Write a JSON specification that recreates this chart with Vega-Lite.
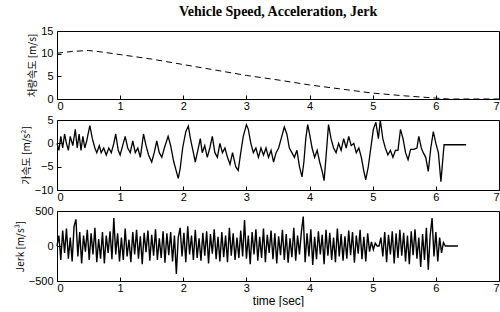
{
  "$schema": "https://vega.github.io/schema/vega-lite/v6.json",
  "padding": {"left": 14, "top": 4, "right": 0, "bottom": 0},
  "background": "white",
  "title": {"text": "Vehicle Speed, Acceleration, Jerk", "font": "Liberation Serif", "fontSize": 14, "fontWeight": "bold", "anchor": "middle", "offset": 6, "color": "black", "dx": 20},
  "config": {
    "view": {"stroke": "black", "strokeWidth": 1},
    "axis": {"labelFont": "Liberation Sans", "labelFontSize": 11, "titleFont": "Noto Sans CJK KR", "titleFontSize": 10, "titleFontWeight": "normal", "domain": false, "grid": false, "tickColor": "black", "labelColor": "black", "titleColor": "black", "tickSize": -4, "titlePadding": 3},
    "axisX": {"labelPadding": 5},
    "axisY": {"labelPadding": 8}
  },
  "spacing": 1,
  "datasets": {
    "speed": [
      {"t": 0, "v": 10.1}, {"t": 0.25, "v": 10.5}, {"t": 0.5, "v": 10.7}, {"t": 0.75, "v": 10.3}, {"t": 1.0, "v": 9.8},
      {"t": 1.5, "v": 8.8}, {"t": 2.0, "v": 7.6}, {"t": 2.5, "v": 6.4}, {"t": 3.0, "v": 5.2}, {"t": 3.5, "v": 4.2},
      {"t": 4.0, "v": 3.1}, {"t": 4.5, "v": 2.2}, {"t": 5.0, "v": 1.3}, {"t": 5.5, "v": 0.7}, {"t": 6.0, "v": 0.2},
      {"t": 6.2, "v": 0}, {"t": 7.0, "v": 0}
    ],
    "acc": [
      {"t":0,"a":0},{"t":0.03,"a":-1.5},{"t":0.06,"a":1.5},{"t":0.09,"a":-1},{"t":0.12,"a":2},{"t":0.15,"a":0},{"t":0.18,"a":-1.5},{"t":0.21,"a":1.5},{"t":0.25,"a":-0.5},{"t":0.29,"a":3},{"t":0.32,"a":-1},{"t":0.35,"a":2},{"t":0.38,"a":-1.5},{"t":0.41,"a":1.5},{"t":0.44,"a":-1},{"t":0.47,"a":0.5},{"t":0.52,"a":3.8},{"t":0.56,"a":1},{"t":0.6,"a":-1},{"t":0.63,"a":-2},{"t":0.67,"a":-0.5},{"t":0.7,"a":-2},{"t":0.74,"a":-1},{"t":0.78,"a":-2.5},{"t":0.82,"a":-1},{"t":0.86,"a":-2},{"t":0.9,"a":0},{"t":0.93,"a":2},{"t":0.97,"a":-1.5},{"t":1.0,"a":-2.5},{"t":1.04,"a":-0.5},{"t":1.08,"a":1.5},{"t":1.12,"a":-1},{"t":1.16,"a":-2},{"t":1.2,"a":0.5},{"t":1.24,"a":-2},{"t":1.28,"a":-1},{"t":1.32,"a":-3},{"t":1.37,"a":2},{"t":1.41,"a":-0.5},{"t":1.45,"a":-2.5},{"t":1.5,"a":-4},{"t":1.54,"a":-2},{"t":1.58,"a":0.5},{"t":1.62,"a":-2},{"t":1.66,"a":-3},{"t":1.7,"a":-1},{"t":1.76,"a":1.5},{"t":1.8,"a":-0.5},{"t":1.85,"a":-4},{"t":1.89,"a":-6},{"t":1.92,"a":-7.5},{"t":1.95,"a":-5.5},{"t":1.99,"a":-1},{"t":2.04,"a":2.5},{"t":2.08,"a":3.7},{"t":2.12,"a":0.5},{"t":2.16,"a":-2},{"t":2.19,"a":-4},{"t":2.23,"a":-1.5},{"t":2.27,"a":1},{"t":2.3,"a":-2},{"t":2.34,"a":-0.5},{"t":2.38,"a":-3},{"t":2.42,"a":-1},{"t":2.46,"a":1.5},{"t":2.5,"a":-2},{"t":2.54,"a":-3},{"t":2.58,"a":0},{"t":2.62,"a":-2},{"t":2.66,"a":-1},{"t":2.7,"a":-3},{"t":2.74,"a":-4.5},{"t":2.78,"a":-2},{"t":2.83,"a":-5},{"t":2.87,"a":-5.8},{"t":2.91,"a":-2},{"t":2.95,"a":1.5},{"t":3.0,"a":4},{"t":3.03,"a":3},{"t":3.07,"a":0},{"t":3.11,"a":-2},{"t":3.15,"a":-1},{"t":3.19,"a":-3},{"t":3.23,"a":-1},{"t":3.27,"a":-2.5},{"t":3.31,"a":-1},{"t":3.35,"a":-3},{"t":3.39,"a":-1.5},{"t":3.43,"a":-4},{"t":3.47,"a":-2},{"t":3.51,"a":-1},{"t":3.56,"a":1.5},{"t":3.6,"a":3.5},{"t":3.64,"a":2},{"t":3.68,"a":-1},{"t":3.72,"a":-2},{"t":3.76,"a":-3},{"t":3.8,"a":-1.5},{"t":3.84,"a":-5},{"t":3.88,"a":-7.2},{"t":3.91,"a":-4},{"t":3.94,"a":1},{"t":3.97,"a":4},{"t":4.0,"a":2},{"t":4.04,"a":-1},{"t":4.08,"a":-3},{"t":4.12,"a":-1.5},{"t":4.16,"a":-4},{"t":4.2,"a":-6},{"t":4.23,"a":-8},{"t":4.26,"a":-3},{"t":4.3,"a":4},{"t":4.34,"a":1},{"t":4.38,"a":-1},{"t":4.42,"a":-2},{"t":4.46,"a":0},{"t":4.5,"a":-1.5},{"t":4.54,"a":1},{"t":4.58,"a":-1},{"t":4.62,"a":1.5},{"t":4.66,"a":-0.5},{"t":4.7,"a":0},{"t":4.74,"a":-2},{"t":4.78,"a":-1},{"t":4.82,"a":-3},{"t":4.86,"a":-6},{"t":4.89,"a":-7.8},{"t":4.93,"a":-5},{"t":4.97,"a":-1},{"t":5.01,"a":3},{"t":5.05,"a":4.5},{"t":5.09,"a":1},{"t":5.12,"a":5},{"t":5.16,"a":1},{"t":5.2,"a":-1},{"t":5.24,"a":-2.5},{"t":5.28,"a":-1.5},{"t":5.32,"a":-3},{"t":5.36,"a":-1.5},{"t":5.4,"a":-1.5},{"t":5.44,"a":3},{"t":5.48,"a":1},{"t":5.52,"a":-2},{"t":5.56,"a":-3.5},{"t":5.6,"a":-1.3},{"t":5.65,"a":-1.3},{"t":5.7,"a":-1},{"t":5.73,"a":1.5},{"t":5.77,"a":-1},{"t":5.8,"a":-2},{"t":5.84,"a":-3},{"t":5.88,"a":-6},{"t":5.92,"a":-1},{"t":5.96,"a":2.5},{"t":6.0,"a":0},{"t":6.04,"a":-2},{"t":6.08,"a":-8.2},{"t":6.13,"a":-0.3},{"t":6.48,"a":-0.3}
    ],
    "jerk": [
      {"t":0,"j":0},{"t":0.03,"j":150},{"t":0.06,"j":-200},{"t":0.09,"j":220},{"t":0.12,"j":-100},{"t":0.15,"j":250},{"t":0.18,"j":-180},{"t":0.21,"j":120},{"t":0.24,"j":-220},{"t":0.27,"j":280},{"t":0.3,"j":380},{"t":0.33,"j":-150},{"t":0.36,"j":200},{"t":0.39,"j":-250},{"t":0.42,"j":150},{"t":0.45,"j":-80},{"t":0.48,"j":230},{"t":0.51,"j":-200},{"t":0.54,"j":180},{"t":0.57,"j":-120},
      {"t":0.6,"j":260},{"t":0.63,"j":-230},{"t":0.66,"j":100},{"t":0.69,"j":-180},{"t":0.72,"j":200},{"t":0.75,"j":-250},{"t":0.78,"j":150},{"t":0.81,"j":-100},{"t":0.84,"j":210},{"t":0.87,"j":-190},{"t":0.9,"j":400},{"t":0.93,"j":-120},{"t":0.96,"j":180},{"t":0.99,"j":-220},{"t":1.02,"j":120},{"t":1.05,"j":-200},{"t":1.08,"j":250},{"t":1.11,"j":-150},{"t":1.14,"j":90},{"t":1.17,"j":-230},
      {"t":1.2,"j":200},{"t":1.23,"j":-120},{"t":1.26,"j":230},{"t":1.29,"j":-180},{"t":1.32,"j":140},{"t":1.35,"j":-260},{"t":1.38,"j":190},{"t":1.41,"j":-90},{"t":1.44,"j":220},{"t":1.47,"j":-210},{"t":1.5,"j":160},{"t":1.53,"j":-140},{"t":1.56,"j":240},{"t":1.59,"j":-200},{"t":1.62,"j":110},{"t":1.65,"j":-170},{"t":1.68,"j":210},{"t":1.71,"j":-240},{"t":1.74,"j":180},{"t":1.77,"j":-130},
      {"t":1.8,"j":200},{"t":1.83,"j":-220},{"t":1.86,"j":150},{"t":1.89,"j":-400},{"t":1.92,"j":120},{"t":1.95,"j":260},{"t":1.98,"j":-150},{"t":2.01,"j":190},{"t":2.04,"j":-230},{"t":2.07,"j":280},{"t":2.1,"j":-120},{"t":2.13,"j":150},{"t":2.16,"j":-200},{"t":2.19,"j":230},{"t":2.22,"j":-170},{"t":2.25,"j":110},{"t":2.28,"j":-210},{"t":2.31,"j":190},{"t":2.34,"j":-140},{"t":2.37,"j":210},
      {"t":2.4,"j":-250},{"t":2.43,"j":170},{"t":2.46,"j":-110},{"t":2.49,"j":240},{"t":2.52,"j":-190},{"t":2.55,"j":130},{"t":2.58,"j":-220},{"t":2.61,"j":200},{"t":2.64,"j":-160},{"t":2.67,"j":150},{"t":2.7,"j":-230},{"t":2.73,"j":260},{"t":2.76,"j":-140},{"t":2.79,"j":180},{"t":2.82,"j":-200},{"t":2.85,"j":120},{"t":2.88,"j":-170},{"t":2.91,"j":220},{"t":2.94,"j":-150},{"t":2.97,"j":370},
      {"t":3.0,"j":-180},{"t":3.03,"j":150},{"t":3.06,"j":-260},{"t":3.09,"j":200},{"t":3.12,"j":-120},{"t":3.15,"j":240},{"t":3.18,"j":-210},{"t":3.21,"j":130},{"t":3.24,"j":-170},{"t":3.27,"j":250},{"t":3.3,"j":-230},{"t":3.33,"j":160},{"t":3.36,"j":-100},{"t":3.39,"j":220},{"t":3.42,"j":-190},{"t":3.45,"j":180},{"t":3.48,"j":-250},{"t":3.51,"j":140},{"t":3.54,"j":-130},{"t":3.57,"j":230},
      {"t":3.6,"j":-200},{"t":3.63,"j":170},{"t":3.66,"j":-240},{"t":3.69,"j":110},{"t":3.72,"j":-160},{"t":3.75,"j":260},{"t":3.78,"j":-210},{"t":3.81,"j":150},{"t":3.84,"j":-120},{"t":3.87,"j":200},{"t":3.9,"j":420},{"t":3.93,"j":-230},{"t":3.96,"j":180},{"t":3.99,"j":-150},{"t":4.02,"j":240},{"t":4.05,"j":-270},{"t":4.08,"j":130},{"t":4.11,"j":-190},{"t":4.14,"j":210},{"t":4.17,"j":-120},
      {"t":4.2,"j":160},{"t":4.23,"j":-260},{"t":4.26,"j":230},{"t":4.29,"j":-140},{"t":4.32,"j":190},{"t":4.35,"j":-200},{"t":4.38,"j":120},{"t":4.41,"j":-230},{"t":4.44,"j":250},{"t":4.47,"j":-150},{"t":4.5,"j":170},{"t":4.53,"j":-210},{"t":4.56,"j":140},{"t":4.59,"j":-180},{"t":4.62,"j":220},{"t":4.65,"j":-130},{"t":4.68,"j":200},{"t":4.71,"j":-240},{"t":4.74,"j":150},{"t":4.77,"j":-110},
      {"t":4.8,"j":230},{"t":4.83,"j":-190},{"t":4.86,"j":130},{"t":4.89,"j":-220},{"t":4.92,"j":180},{"t":4.95,"j":-80},{"t":4.98,"j":60},{"t":5.01,"j":-50},{"t":5.04,"j":40},{"t":5.07,"j":0},{"t":5.1,"j":0},{"t":5.13,"j":120},{"t":5.16,"j":-150},{"t":5.19,"j":200},{"t":5.22,"j":-230},{"t":5.25,"j":160},{"t":5.28,"j":-120},{"t":5.31,"j":210},{"t":5.34,"j":-250},{"t":5.37,"j":180},
      {"t":5.4,"j":-170},{"t":5.43,"j":230},{"t":5.46,"j":-140},{"t":5.49,"j":190},{"t":5.52,"j":-220},{"t":5.55,"j":150},{"t":5.58,"j":-260},{"t":5.61,"j":210},{"t":5.64,"j":-130},{"t":5.67,"j":240},{"t":5.7,"j":-180},{"t":5.73,"j":120},{"t":5.76,"j":-300},{"t":5.79,"j":170},{"t":5.82,"j":-200},{"t":5.85,"j":260},{"t":5.88,"j":-340},{"t":5.91,"j":150},{"t":5.94,"j":400},{"t":5.97,"j":-150},
      {"t":6.0,"j":200},{"t":6.03,"j":-220},{"t":6.06,"j":120},{"t":6.09,"j":-100},{"t":6.12,"j":50},{"t":6.15,"j":0},{"t":6.35,"j":0}
    ]
  },
  "vconcat": [
    {
      "width": 442, "height": 68,
      "data": {"name": "speed"},
      "mark": {"type": "line", "color": "black", "strokeWidth": 1, "strokeDash": [6, 4]},
      "encoding": {
        "x": {"field": "t", "type": "quantitative", "scale": {"domain": [0, 7], "nice": false}, "axis": {"title": null, "values": [0,1,2,3,4,5,6,7]}},
        "y": {"field": "v", "type": "quantitative", "scale": {"domain": [0, 15], "nice": false}, "axis": {"title": "차량속도 [m/s]", "values": [0,5,10,15]}}
      }
    },
    {
      "width": 442, "height": 70,
      "data": {"name": "acc"},
      "mark": {"type": "line", "color": "black", "strokeWidth": 1.3},
      "encoding": {
        "x": {"field": "t", "type": "quantitative", "scale": {"domain": [0, 7], "nice": false}, "axis": {"title": null, "values": [0,1,2,3,4,5,6,7]}},
        "y": {"field": "a", "type": "quantitative", "scale": {"domain": [-10, 5], "nice": false}, "axis": {"title": "가속도 [m/s²]", "values": [-10,-5,0,5]}}
      }
    },
    {
      "width": 442, "height": 70,
      "data": {"name": "jerk"},
      "mark": {"type": "line", "color": "black", "strokeWidth": 1.4},
      "encoding": {
        "x": {"field": "t", "type": "quantitative", "scale": {"domain": [0, 7], "nice": false}, "axis": {"title": "time [sec]", "titleFont": "Liberation Sans", "titleFontSize": 12, "titlePadding": 2, "values": [0,1,2,3,4,5,6,7]}},
        "y": {"field": "j", "type": "quantitative", "scale": {"domain": [-500, 500], "nice": false}, "axis": {"title": "Jerk [m/s³]", "values": [-500,0,500]}}
      }
    }
  ]
}
